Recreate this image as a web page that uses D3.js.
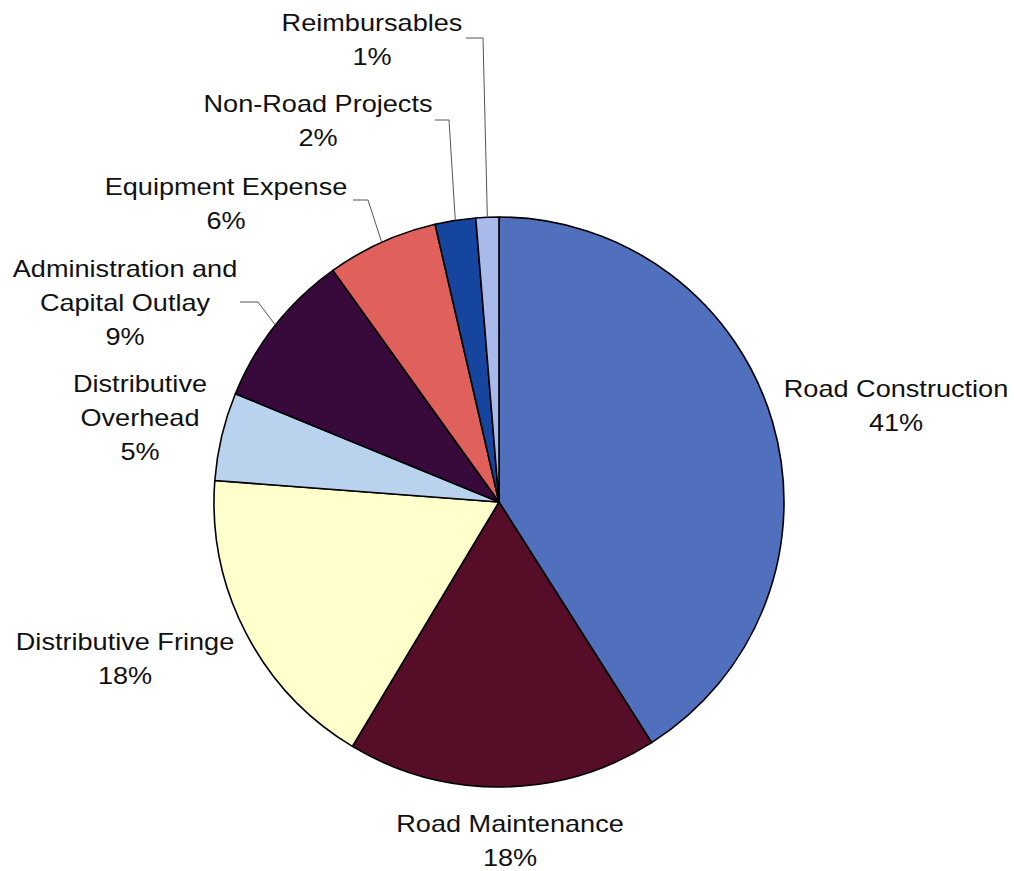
<!DOCTYPE html>
<html>
<head>
<meta charset="utf-8">
<script src="https://cdn.jsdelivr.net/npm/d3@7"></script>
<style>
  html, body { margin: 0; padding: 0; background: #ffffff; }
  svg { display: block; }
  text { font-family: "Liberation Sans", Arial, sans-serif; font-size: 24px; fill: #111; }
</style>
</head>
<body>
<svg id="chart" width="1014" height="871"></svg>
<script>
const categories = ["Road Construction", "Road Maintenance", "Distributive Fringe", "Distributive Overhead",
  "Administration and Capital Outlay", "Equipment Expense", "Non-Road Projects", "Reimbursables"];
const values = [41.0, 17.6, 17.6, 5.0, 8.9, 6.3, 2.3, 1.3];
const percentLabels = ["41%", "18%", "18%", "5%", "9%", "6%", "2%", "1%"];
const labelLines = [
  ["Road Construction"], ["Road Maintenance"], ["Distributive Fringe"], ["Distributive", "Overhead"],
  ["Administration and", "Capital Outlay"], ["Equipment Expense"], ["Non-Road Projects"], ["Reimbursables"]
];
const colors = ["#5070BE", "#560D28", "#FFFFCC", "#B9D2EE", "#380A3C", "#E0615C", "#1645A0", "#A9B9E9"];

// layout (label anchor: center x, first baseline y; leader: elbow points)
const labelPos = [
  {x: 896, y: 397}, {x: 510, y: 832}, {x: 125, y: 650}, {x: 140, y: 392},
  {x: 125, y: 277}, {x: 226, y: 195}, {x: 318, y: 112}, {x: 372, y: 31}
];
const leaders = [null, null, null, null,
  [[240, 302], [258, 302]],
  [[353, 200], [368, 200]],
  [[435, 120], [449, 120]],
  [[466, 38], [483, 38]]
];

const svg = d3.select("#chart");
const cx = 499, cy = 502, R = 285;
const lineH = 34;
const stretch = 1.13;

const pie = d3.pie().sort(null).value(d => d).startAngle(0).endAngle(2 * Math.PI);
const arcs = pie(values);
const arc = d3.arc().innerRadius(0).outerRadius(R);

const g = svg.append("g").attr("transform", `translate(${cx},${cy})`);
g.selectAll("path.slice").data(arcs).enter().append("path")
  .attr("class", "slice")
  .attr("d", arc)
  .attr("fill", (d, i) => colors[i])
  .attr("stroke", "#000")
  .attr("stroke-width", 1.6)
  .attr("stroke-linejoin", "round");

// leader lines
arcs.forEach((d, i) => {
  if (!leaders[i]) return;
  const mid = (d.startAngle + d.endAngle) / 2;
  const px = cx + R * Math.sin(mid), py = cy - R * Math.cos(mid);
  const pts = leaders[i].concat([[px, py]]);
  svg.append("path")
    .attr("d", d3.line()(pts))
    .attr("fill", "none")
    .attr("stroke", "#555")
    .attr("stroke-width", 1);
});

// labels
categories.forEach((c, i) => {
  const lines = labelLines[i].concat([percentLabels[i]]);
  const t = svg.append("text")
    .attr("text-anchor", "middle")
    .attr("transform", `translate(${labelPos[i].x},${labelPos[i].y}) scale(${stretch},1)`);
  lines.forEach((ln, k) => {
    t.append("tspan").attr("x", 0).attr("dy", k === 0 ? 0 : lineH).text(ln);
  });
});
</script>
</body>
</html>
